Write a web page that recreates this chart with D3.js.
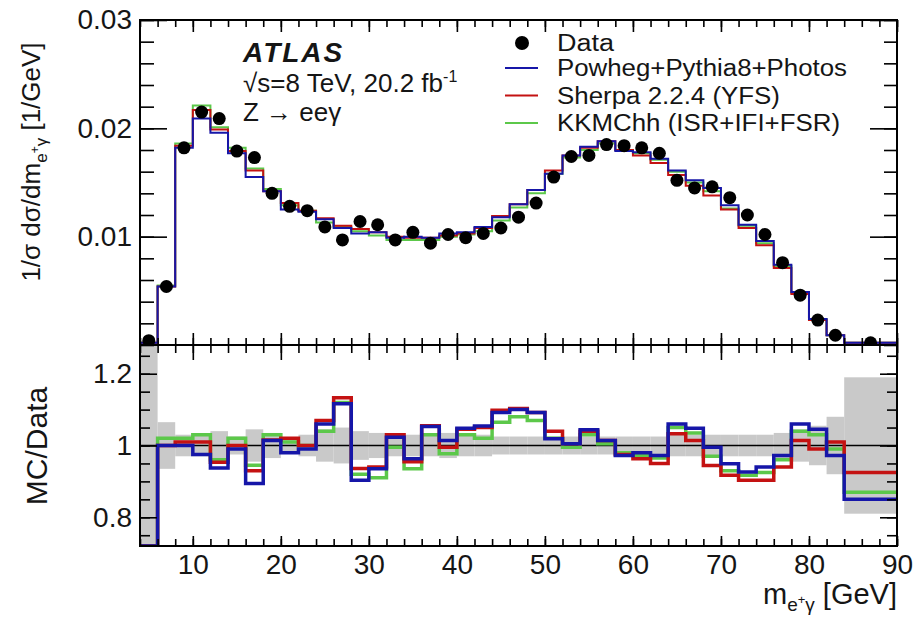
<!DOCTYPE html>
<html>
<head>
<meta charset="utf-8">
<script src="https://cdn.jsdelivr.net/npm/d3@7"></script>
<style>
  body { margin: 0; background: #fff; }
  svg { display: block; }
  text { font-family: "Liberation Sans", Arial, Helvetica, sans-serif; fill: #151515; }
</style>
</head>
<body>
<svg id="chart" width="914" height="617"></svg>
<script>
// bin edges of m(e+gamma) in GeV (last bin is wider)
const binEdges = [4,6,8,10,12,14,16,18,20,22,24,26,28,30,32,34,36,38,40,42,44,46,48,50,52,54,56,58,60,62,64,66,68,70,72,74,76,78,80,82,84,90];

// normalised cross section, 1/sigma dsigma/dm [1/GeV]
const dataVals   = [0.0004,0.0054,0.0182,0.0215,0.0209,0.0179,0.0173,0.0140,0.0128,0.0124,0.0109,0.0097,0.0114,0.0111,0.0097,0.0104,0.0094,0.0102,0.0099,0.0103,0.0108,0.0118,0.0131,0.0155,0.0174,0.0175,0.0185,0.0184,0.0182,0.0177,0.0152,0.0145,0.0146,0.0136,0.0120,0.0102,0.0076,0.0046,0.0023,0.0009,0.0002];
const powhegVals = [0.0002,0.0054,0.0182,0.0209,0.0196,0.0177,0.0155,0.0142,0.0125,0.0123,0.0116,0.0108,0.0103,0.0104,0.0099,0.0100,0.0099,0.0103,0.0104,0.0109,0.0118,0.0130,0.0143,0.0158,0.0175,0.0183,0.0188,0.0179,0.0178,0.0172,0.0161,0.0152,0.0145,0.0129,0.0111,0.0096,0.0074,0.0049,0.0024,0.0009,0.0002];
const sherpaVals = [0.0002,0.0054,0.0184,0.0217,0.0199,0.0179,0.0161,0.0142,0.0131,0.0124,0.0117,0.0110,0.0107,0.0104,0.0100,0.0099,0.0099,0.0101,0.0103,0.0108,0.0119,0.0130,0.0143,0.0161,0.0175,0.0182,0.0188,0.0180,0.0175,0.0168,0.0157,0.0147,0.0138,0.0125,0.0108,0.0092,0.0071,0.0047,0.0023,0.0009,0.0002];
const kkmcVals   = [0.0002,0.0055,0.0186,0.0221,0.0201,0.0182,0.0163,0.0144,0.0129,0.0124,0.0113,0.0109,0.0105,0.0101,0.0097,0.0097,0.0097,0.0100,0.0102,0.0105,0.0115,0.0127,0.0140,0.0158,0.0173,0.0180,0.0186,0.0180,0.0177,0.0171,0.0160,0.0150,0.0142,0.0126,0.0110,0.0094,0.0073,0.0048,0.0024,0.0009,0.0002];

// MC / Data ratios
const powhegRatio = [0.55,1.00,1.00,0.975,0.937,0.99,0.894,1.014,0.98,0.99,1.06,1.116,0.903,0.935,1.023,0.963,1.053,1.014,1.048,1.054,1.092,1.10,1.092,1.019,1.005,1.044,1.014,0.972,0.98,0.972,1.06,1.048,0.995,0.949,0.926,0.94,0.972,1.06,1.045,0.972,0.85];
const sherpaRatio = [0.6,1.00,1.01,1.01,0.953,1.00,0.93,1.015,1.02,1.00,1.07,1.133,0.936,0.94,1.03,0.955,1.055,0.995,1.045,1.05,1.098,1.103,1.092,1.04,1.005,1.04,1.014,0.975,0.963,0.95,1.033,1.014,0.944,0.917,0.903,0.903,0.94,1.014,0.99,1.01,0.925];
const kkmcRatio   = [0.6,1.02,1.02,1.03,0.96,1.02,0.945,1.03,1.01,1.00,1.04,1.12,0.92,0.91,0.995,0.935,1.03,0.977,1.03,1.02,1.065,1.08,1.07,1.02,0.995,1.03,1.005,0.98,0.972,0.965,1.05,1.035,0.97,0.93,0.917,0.925,0.96,1.04,1.03,0.99,0.87];
// data uncertainty (half width of the grey band in the ratio)
const dataBand = [0.5,0.065,0.03,0.03,0.04,0.025,0.045,0.035,0.02,0.03,0.045,0.05,0.04,0.035,0.03,0.03,0.03,0.035,0.03,0.03,0.025,0.025,0.025,0.025,0.025,0.025,0.025,0.025,0.025,0.025,0.03,0.03,0.03,0.03,0.03,0.03,0.035,0.045,0.055,0.08,0.19];

const xTicks = [10,20,30,40,50,60,70,80,90];
const topTicks = [0.01,0.02,0.03];
const ratioTicks = [0.8,1.0,1.2];

const seriesNames = ["Powheg+Pythia8+Photos","Sherpa 2.2.4 (YFS)","KKMChh (ISR+IFI+FSR)"];

const colors = { powheg: "#1616a8", sherpa: "#c41212", kkmc: "#5cc84a" };

// layout
const X0 = 140, X1 = 897;
const topY0 = 20, midY = 345, botY = 546;

const svg = d3.select("#chart");

const x = d3.scaleLinear().domain([4, 90]).range([X0, X1]);
const yTop = d3.scaleLinear().domain([0, 0.03]).range([midY, topY0]);
const yRat = d3.scaleLinear().domain([0.72, 1.28]).range([botY, midY]).clamp(true);

// turn bin contents into points for a step line
function steps(vals) {
  const pts = vals.map((v, i) => [binEdges[i], v]);
  pts.push([binEdges[binEdges.length - 1], vals[vals.length - 1]]);
  return pts;
}
const bins = dataVals.map((v, i) => ({ lo: binEdges[i], hi: binEdges[i + 1], v: v, band: dataBand[i] }));

svg.append("clipPath").attr("id", "clipTop")
  .append("rect").attr("x", X0).attr("y", topY0).attr("width", X1 - X0).attr("height", midY - topY0);
svg.append("clipPath").attr("id", "clipBot")
  .append("rect").attr("x", X0).attr("y", midY).attr("width", X1 - X0).attr("height", botY - midY);

// ---------- top panel ----------
const topG = svg.append("g").attr("clip-path", "url(#clipTop)");
const topLine = d3.line().x(d => x(d[0])).y(d => yTop(d[1])).curve(d3.curveStepAfter);

[[kkmcVals, colors.kkmc], [sherpaVals, colors.sherpa], [powhegVals, colors.powheg]].forEach(s => {
  topG.append("path").attr("d", topLine(steps(s[0])))
    .attr("fill", "none").attr("stroke", s[1]).attr("stroke-width", 2);
});

topG.selectAll("circle.data").data(bins).join("circle")
  .attr("class", "data")
  .attr("cx", d => x((d.lo + d.hi) / 2))
  .attr("cy", d => yTop(d.v))
  .attr("r", 6.5)
  .attr("fill", "#000");

// ---------- ratio panel ----------
const botG = svg.append("g").attr("clip-path", "url(#clipBot)");

botG.selectAll("rect.band").data(bins).join("rect")
  .attr("class", "band")
  .attr("x", d => x(d.lo))
  .attr("width", d => x(d.hi) - x(d.lo))
  .attr("y", d => yRat(1 + d.band))
  .attr("height", d => yRat(1 - d.band) - yRat(1 + d.band))
  .attr("fill", "#c9c9c9");

botG.append("line")
  .attr("x1", X0).attr("x2", X1)
  .attr("y1", yRat(1)).attr("y2", yRat(1))
  .attr("stroke", "#000").attr("stroke-width", 1.6);

const ratLine = d3.line().x(d => x(d[0])).y(d => yRat(d[1])).curve(d3.curveStepAfter);
[[kkmcRatio, colors.kkmc], [sherpaRatio, colors.sherpa], [powhegRatio, colors.powheg]].forEach(s => {
  botG.append("path").attr("d", ratLine(steps(s[0])))
    .attr("fill", "none").attr("stroke", s[1]).attr("stroke-width", 3.5);
});

// ---------- axes ----------
function axis(gen, scale, vals, size, pos, labels, fmt) {
  const a = gen(scale).tickValues(vals).tickSize(-size).tickPadding(labels ? 8 : 0)
    .tickFormat(labels ? fmt : "");
  const g = svg.append("g").attr("transform", pos).call(a);
  g.select(".domain").remove();
  g.selectAll(".tick line").attr("stroke", "#000").attr("stroke-width", 1.6);
  g.selectAll("text").attr("font-size", 28).attr("fill", "#151515")
    .attr("font-family", "'Liberation Sans', Arial, sans-serif");
  return g;
}
const xMinor = d3.range(4, 90.1, 2);
const topMinor = d3.range(0, 0.0301, 0.002);
const ratMinor = d3.range(0.75, 1.26, 0.05);

// top panel frame ticks
axis(d3.axisLeft, yTop, topMinor, 14, `translate(${X0},0)`);
axis(d3.axisLeft, yTop, topTicks, 27, `translate(${X0},0)`, true, d => d.toFixed(2));
axis(d3.axisRight, yTop, topMinor, 13, `translate(${X1},0)`);
axis(d3.axisRight, yTop, topTicks, 27, `translate(${X1},0)`);
axis(d3.axisTop, x, xMinor, 7, `translate(0,${topY0})`);
axis(d3.axisTop, x, xTicks, 12, `translate(0,${topY0})`);
axis(d3.axisBottom, x, xMinor, 7, `translate(0,${midY})`);
axis(d3.axisBottom, x, xTicks, 12, `translate(0,${midY})`);

// ratio panel frame ticks
axis(d3.axisLeft, yRat, ratMinor, 10, `translate(${X0},0)`);
axis(d3.axisLeft, yRat, ratioTicks, 17, `translate(${X0},0)`, true, d => d === 1 ? "1" : d3.format(".1f")(d));
axis(d3.axisRight, yRat, ratMinor, 10, `translate(${X1},0)`);
axis(d3.axisRight, yRat, ratioTicks, 17, `translate(${X1},0)`);
axis(d3.axisTop, x, xMinor, 8, `translate(0,${midY})`);
axis(d3.axisTop, x, xTicks, 15, `translate(0,${midY})`);
axis(d3.axisBottom, x, xMinor, 7, `translate(0,${botY})`);
axis(d3.axisBottom, x, xTicks, 10, `translate(0,${botY})`, true, d => d);

// frames
svg.append("rect").attr("x", X0).attr("y", topY0).attr("width", X1 - X0).attr("height", midY - topY0)
  .attr("fill", "none").attr("stroke", "#000").attr("stroke-width", 2);
svg.append("rect").attr("x", X0).attr("y", midY).attr("width", X1 - X0).attr("height", botY - midY)
  .attr("fill", "none").attr("stroke", "#000").attr("stroke-width", 2);

// ---------- titles ----------
const yt = svg.append("text")
  .attr("transform", "translate(40,162) rotate(-90)")
  .attr("text-anchor", "middle").attr("font-size", 26);
yt.append("tspan").text("1/σ dσ/dm");
yt.append("tspan").attr("font-size", 17).attr("dy", 7).text("e");
yt.append("tspan").attr("font-size", 12).attr("dy", -8).text("+");
yt.append("tspan").attr("font-size", 17).attr("dy", 8).text("γ");
yt.append("tspan").attr("dy", -7).text(" [1/GeV]");

svg.append("text")
  .attr("transform", "translate(47,446) rotate(-90)")
  .attr("text-anchor", "middle").attr("font-size", 30).text("MC/Data");

const xt = svg.append("text").attr("x", X1).attr("y", 604)
  .attr("text-anchor", "end").attr("font-size", 29);
xt.append("tspan").text("m");
xt.append("tspan").attr("font-size", 19).attr("dy", 7).text("e");
xt.append("tspan").attr("font-size", 13).attr("dy", -7).text("+");
xt.append("tspan").attr("font-size", 19).attr("dy", 7).text("γ");
xt.append("tspan").attr("dy", -7).text(" [GeV]");

// ATLAS label
svg.append("text").attr("x", 243).attr("y", 62)
  .attr("font-size", 28).attr("font-weight", "bold").attr("font-style", "italic")
  .attr("letter-spacing", 2).text("ATLAS");
const en = svg.append("text").attr("x", 243).attr("y", 92).attr("font-size", 26);
en.append("tspan").text("√s=8 TeV, 20.2 fb");
en.append("tspan").attr("font-size", 16).attr("dy", -10).text("-1");
svg.append("text").attr("x", 243).attr("y", 121).attr("font-size", 26).text("Z → eeγ");

// ---------- legend ----------
const leg = svg.append("g");
leg.append("circle").attr("cx", 522).attr("cy", 43).attr("r", 7).attr("fill", "#000");
leg.append("text").attr("x", 557).attr("y", 51).attr("font-size", 23)
  .attr("textLength", 57).attr("lengthAdjust", "spacingAndGlyphs").text("Data");
const legColors = [colors.powheg, colors.sherpa, colors.kkmc];
const legWidths = [290, 223, 283];
seriesNames.forEach((name, i) => {
  const yy = 68 + i * 27.5;
  leg.append("line").attr("x1", 505).attr("x2", 538).attr("y1", yy).attr("y2", yy)
    .attr("stroke", legColors[i]).attr("stroke-width", 2);
  leg.append("text").attr("x", 557).attr("y", yy + 8).attr("font-size", 23)
    .attr("textLength", legWidths[i]).attr("lengthAdjust", "spacingAndGlyphs").text(name);
});
</script>
</body>
</html>
